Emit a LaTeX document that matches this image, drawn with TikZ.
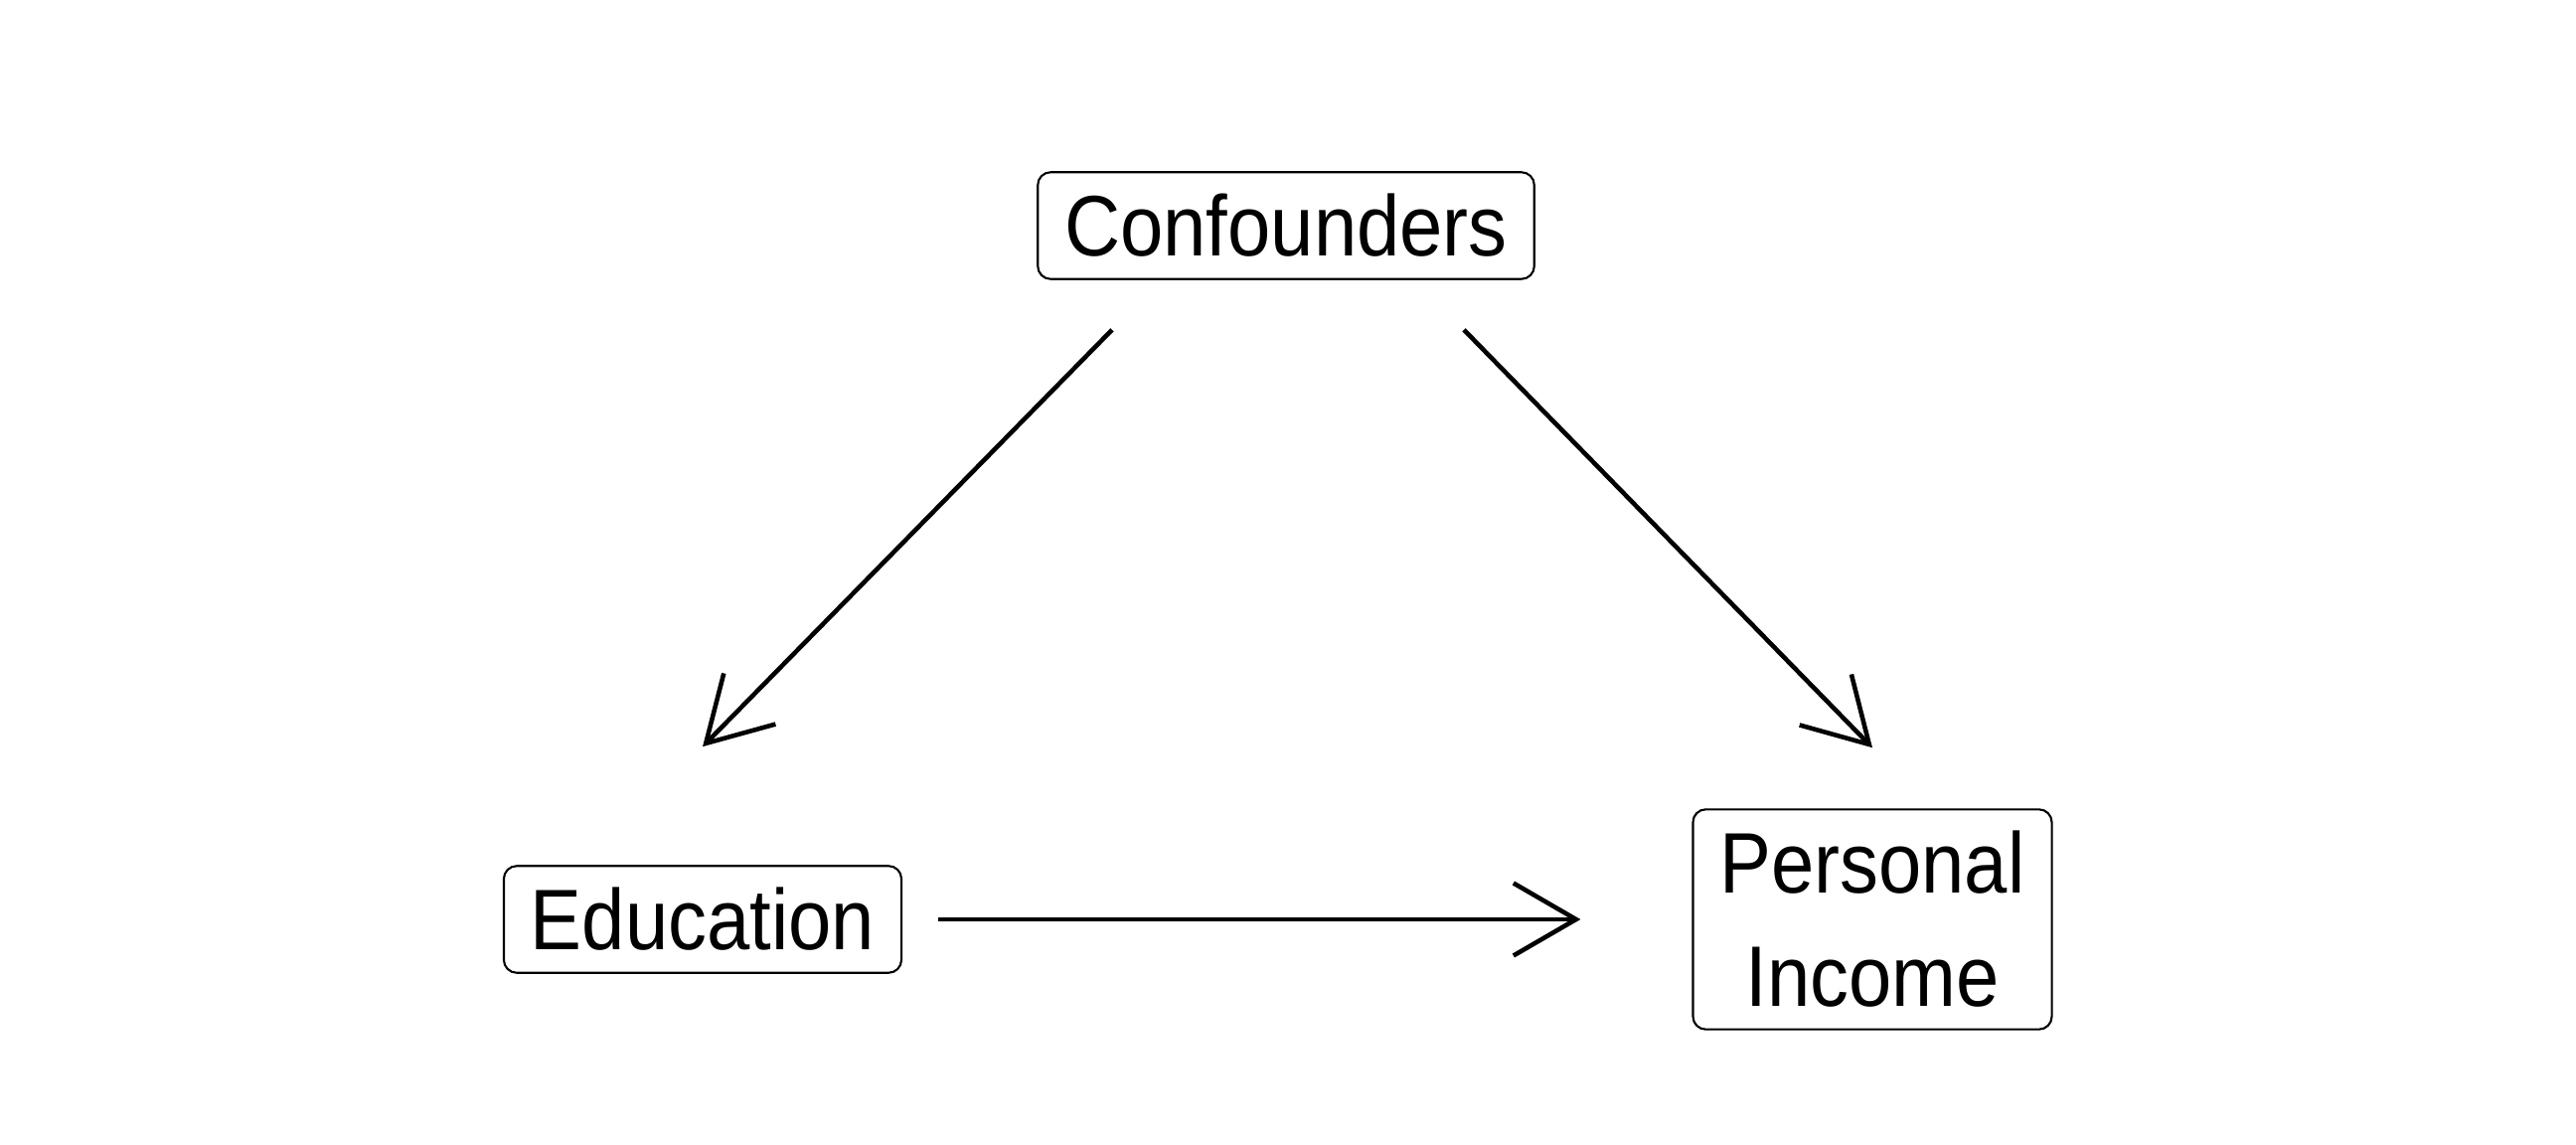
\documentclass[tikz,border=0pt]{standalone}
\usepackage{fontspec}
\setmainfont[FakeStretch=0.9]{Liberation Sans}
\usetikzlibrary{arrows.meta}

\begin{document}
\begin{tikzpicture}
% Style
[
    font=\fontsize{24.6}{32.4}\selectfont,
    var/.style={
        draw, line width=.6pt, rounded corners=.13cm, align=center,
        inner xsep=.27cm, inner ysep=.22cm
    },
    arr/.style={
        line width=1.3pt, -{Straight Barb[length=6.3mm, width=7.3mm]}
    }
]
\useasboundingbox (0,0) rectangle (25.92,11.52);

%=================================== Start ===================================
{
    \node[var] (conf) at (12.94,9.25) {Confounders};
    \node[var] (edu)  at (7.07,2.27)  {Education};
    \node[var] (inc)  at (18.84,2.27) {Personal\\Income};

    \draw[arr] ([xshift=-1.75cm, yshift=-.5cm] conf.south) -- ([yshift=1.19cm] edu.north);
    \draw[arr] ([xshift=1.79cm, yshift=-.5cm] conf.south) -- ([yshift=.61cm] inc.north);
    \draw[arr, shorten <=.36cm, shorten >=1.12cm] (edu.east) -- (inc.west);
}
%==================================== END ====================================

\end{tikzpicture}
\end{document}
